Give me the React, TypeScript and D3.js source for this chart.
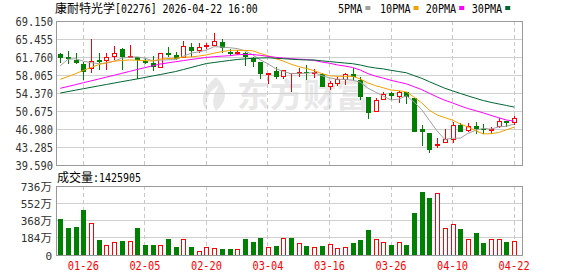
import React from "react";
import * as d3 from "d3";

// ---------- data ----------
const dates = [
  "01-21","01-22","01-23","01-26","01-27","01-28","01-29","01-30","02-02","02-03",
  "02-04","02-05","02-06","02-09","02-10","02-11","02-12","02-13","02-16","02-20",
  "02-23","02-24","02-25","02-26","02-27","03-02","03-03","03-04","03-05","03-06",
  "03-09","03-10","03-11","03-12","03-13","03-16","03-17","03-18","03-19","03-20",
  "03-23","03-24","03-25","03-26","03-27","03-30","03-31","04-01","04-02","04-08",
  "04-09","04-10","04-13","04-14","04-15","04-16","04-17","04-20","04-21","04-22",
];
const opens = [
  62.31,61.69,61.14,60.32,59.43,61.14,61.01,61.83,63.40,61.76,
  61.83,60.94,60.46,59.57,62.51,62.17,61.62,63.81,63.06,64.03,
  64.16,64.84,62.85,62.65,62.58,61.49,60.80,58.30,58.89,57.72,
  58.41,58.60,58.75,58.46,58.21,55.66,56.36,57.18,58.27,57.04,
  53.48,50.53,53.07,54.30,53.75,54.50,53.40,46.98,46.22,43.82,
  44.25,44.86,47.80,46.57,47.53,46.93,46.97,47.45,48.62,48.35,
];
const highs = [
  62.51,63.06,62.51,60.80,65.39,62.65,62.51,64.02,63.54,64.22,
  61.83,61.49,62.03,62.51,63.88,62.85,65.04,64.70,64.70,64.57,
  66.62,65.39,63.33,63.20,62.72,61.69,60.80,58.41,59.78,58.95,
  58.45,59.44,60.12,59.30,58.41,56.90,57.59,58.54,59.44,57.59,
  53.48,53.28,54.64,54.64,54.84,54.50,53.40,47.80,46.22,45.20,
  46.98,48.48,48.15,48.15,48.48,48.00,47.45,49.17,48.62,49.65,
];
const lows = [
  60.46,60.32,60.32,57.04,58.41,59.09,59.09,61.14,59.09,61.49,
  57.17,60.32,58.95,59.43,61.83,61.14,61.49,61.83,62.51,63.33,
  64.16,62.51,62.03,62.17,59.98,59.77,57.24,56.15,57.17,57.17,
  54.64,57.72,57.04,57.51,55.66,54.98,55.81,56.01,57.04,52.93,
  49.03,50.53,52.93,52.93,52.25,52.05,46.30,43.55,42.11,43.02,
  44.25,44.17,46.30,46.42,45.95,45.95,45.95,47.12,47.45,47.80,
];
const closes = [
  61.62,61.35,60.46,58.61,60.87,60.80,61.69,62.58,61.69,61.80,
  61.14,60.46,59.78,62.38,62.17,61.35,63.88,62.99,63.61,64.06,
  64.84,63.54,62.31,62.67,61.83,60.80,58.20,58.32,57.72,58.95,
  58.41,58.62,58.41,58.48,55.66,56.36,57.04,58.21,57.72,53.61,
  50.20,52.93,54.16,53.75,54.57,53.61,46.42,46.30,42.67,43.84,
  44.86,47.80,46.30,47.59,46.98,46.92,46.98,48.62,48.27,49.17,
];
// volume in 万股
const volumes = [
  389,284,294,484,333,158,102,133,147,147,
  284,105,105,102,168,84,168,84,39,81,
  70,63,63,63,168,137,179,84,95,175,
  179,123,91,84,95,116,74,84,126,161,
  266,168,137,105,137,105,445,673,603,652,
  284,326,273,168,231,126,168,168,137,142.59,
];
// moving-average values before enough candles are on screen
const ma5Lead = [59.97, 61.3, 61.4, 60.9];
const ma10Lead = [57.18, 57.75, 58.35, 59.0, 59.6, 60.2, 60.6, 60.9, 61.05];
const ma20Lead = [
  55.33,55.71,56.09,56.48,56.86,57.24,57.63,58.02,58.41,58.80,
  59.19,59.57,59.95,60.32,60.56,60.79,61.02,61.25,61.45,
];
const ma30Lead = [
  54.37,54.66,54.96,55.25,55.54,55.83,56.12,56.41,56.70,56.98,
  57.26,57.56,57.86,58.16,58.47,58.78,59.19,59.60,60.01,60.42,
  60.63,60.84,61.05,61.25,61.37,61.49,61.55,61.60,61.50,
];
const maPeriods = [5, 10, 20, 30];
const maLeads = [ma5Lead, ma10Lead, ma20Lead, ma30Lead];
const maNames = ["5PMA", "10PMA", "20PMA", "30PMA"];
const maColors = ["#a0a0a0", "#f5a000", "#ff00ff", "#006633"];

const priceTicks = [69.15, 65.455, 61.76, 58.065, 54.37, 50.675, 46.98, 43.285, 39.59];
const volumeTicks = [0, 184, 368, 552, 736];
const xTickLabels = ["01-26", "02-05", "02-20", "03-04", "03-16", "03-26", "04-10", "04-22"];

const stockName = "康耐特光学";
const stockInfo = "[02276] 2026-04-22 16:00";
const volumeTitle = "成交量";
const lastVolume = "1425905";

// ---------- layout ----------
const W = 578, H = 276;
const L = 56, R = 522;
const PT = 21, PB = 165;
const VT = 186, VB = 255;
const CH = 6.1;
const RED = "#ff0000";
const GREEN = "#008000";
const MONO = "'DejaVu Sans Mono', 'Liberation Mono', monospace";
const CJK = "'Noto Sans CJK SC', sans-serif";

function Mono({ x, y, text, fill = "#000", anchor = "start", cw = CH }: any) {
  const len = text.length * cw;
  const x0 = anchor === "end" ? x - len : anchor === "middle" ? x - len / 2 : x;
  return (
    <text x={x0} y={y} fontFamily={MONO} fontSize={12} fill={fill}
      textLength={len} lengthAdjust="spacingAndGlyphs">{text}</text>
  );
}

export default function App() {
  const n = closes.length;
  const x = d3.scalePoint<number>().domain(d3.range(n)).range([60.3, 514.1]);
  const y = d3.scaleLinear().domain([39.59, 69.15]).range([PB, PT]);
  const yv = d3.scaleLinear().domain([0, 736]).range([VB, VT]);

  const mas = maPeriods.map((p, k) =>
    closes.map((_, i) =>
      i < p - 1 ? maLeads[k][i] : (d3.mean(closes.slice(i - p + 1, i + 1)) as number)
    )
  );
  const line = d3.line<number>().x((_, i) => x(i) as number).y((d) => y(d));

  const tickIdx = xTickLabels.map((t) => dates.indexOf(t));
  const bw = 5;

  return (
    <svg width={W} height={H} style={{ position: "absolute", left: 0, top: 0, background: "#fff" }}>
      <rect x={0} y={0} width={W} height={H} fill="#fff" />
      {/* title */}
      <text x={55} y={12.5} fontFamily={CJK} fontSize={12} fill="#000">{stockName}</text>
      <Mono x={115} y={12.5} text={stockInfo} cw={5.95} />
      {/* legend */}
      {[338, 380, 425.7, 471.7].map((lx, k) => (
        <g key={k}>
          <Mono x={lx} y={12.5} text={maNames[k]} cw={6.1} />
          <rect x={lx + maNames[k].length * 6.1 + 3} y={6} width={5} height={4} fill={maColors[k]} />
        </g>
      ))}

      {/* watermark */}
      <g fill="#e8e8e8">
        <path d="M216,77 C203,88 199,100 207,111 C204,101 208,92 219,85 C213,94 211,103 216,111 C228,101 228,88 216,77 Z" />
        <text x={237} y={107} fontFamily={CJK} fontWeight="bold" fontSize={33}>东方财富</text>
      </g>

      {/* price grid */}
      <g shapeRendering="crispEdges">
        {priceTicks.map((t, i) => (
          <line key={i} x1={L} x2={R} y1={y(t)} y2={y(t)} stroke="#d0d0d0" />
        ))}
        {tickIdx.map((ti, i) => (
          <line key={i} x1={x(ti)} x2={x(ti)} y1={PT} y2={PB} stroke="#c8c8c8" strokeDasharray="4,3" />
        ))}
        <rect x={L} y={PT} width={R - L} height={PB - PT} fill="none" stroke="#999" />
      </g>
      {priceTicks.map((t, i) => (
        <Mono key={i} x={53} y={y(t) + 4.5} text={t.toFixed(3)} fill="#333" anchor="end" cw={6.25} />
      ))}

      {/* candles */}
      <g shapeRendering="crispEdges">
        {closes.map((c, i) => {
          const o = opens[i];
          const cx = Math.round(x(i) as number) + 0.5;
          const up = c >= o;
          const col = up ? RED : GREEN;
          const top = y(Math.max(o, c));
          const bot = y(Math.min(o, c));
          const hgt = Math.max(bot - top, 1);
          if (up && c > o) {
            return (
              <g key={i}>
                <line x1={cx} x2={cx} y1={y(highs[i])} y2={top} stroke={col} />
                <line x1={cx} x2={cx} y1={bot} y2={y(lows[i])} stroke={col} />
                <rect x={cx - 2} y={top} width={bw - 1} height={hgt} fill="#fff" stroke={col} />
              </g>
            );
          }
          return (
            <g key={i}>
              <line x1={cx} x2={cx} y1={y(highs[i])} y2={y(lows[i])} stroke={col} />
              <rect x={cx - 2.5} y={top} width={bw} height={hgt} fill={col} />
            </g>
          );
        })}
      </g>

      {/* moving averages */}
      {mas.map((m, k) => (
        <path key={k} d={line(m) as string} fill="none" stroke={maColors[k]} strokeWidth={1} />
      ))}

      {/* volume panel */}
      <text x={57} y={182} fontFamily={CJK} fontSize={12} fill="#000">{volumeTitle}</text>
      <Mono x={93} y={182} text={":" + lastVolume} cw={6} />
      <g shapeRendering="crispEdges">
        {volumeTicks.map((t, i) => (
          <line key={i} x1={L} x2={R} y1={yv(t)} y2={yv(t)} stroke="#d0d0d0" />
        ))}
        {tickIdx.map((ti, i) => (
          <line key={i} x1={x(ti)} x2={x(ti)} y1={VT} y2={VB} stroke="#c8c8c8" strokeDasharray="4,3" />
        ))}
        {volumes.map((v, i) => {
          const cx = Math.round(x(i) as number) + 0.5;
          const up = i === 0 ? closes[i] > opens[i] : closes[i] >= closes[i - 1];
          return up ? (
            <rect key={i} x={cx - 2} y={yv(v)} width={bw - 1} height={VB - yv(v)} fill="#fff" stroke={RED} />
          ) : (
            <rect key={i} x={cx - 2.5} y={yv(v)} width={bw} height={VB - yv(v)} fill={GREEN} />
          );
        })}
        <rect x={L} y={VT} width={R - L} height={VB - VT} fill="none" stroke="#999" />
      </g>
      {volumeTicks.map((t, i) => (
        <text key={i} x={52} y={yv(t) + 4.5} textAnchor="end" fill="#333" fontSize={11}>
          <tspan fontFamily={MONO}>{String(t)}</tspan>
          {t !== 0 && <tspan fontFamily={CJK} fontSize={11.5}>万</tspan>}
        </text>
      ))}
      {/* date labels */}
      {tickIdx.map((ti, i) => (
        <Mono key={i} x={x(ti) as number} y={270} text={xTickLabels[i]} fill={RED} anchor="middle" cw={6.2} />
      ))}
    </svg>
  );
}
